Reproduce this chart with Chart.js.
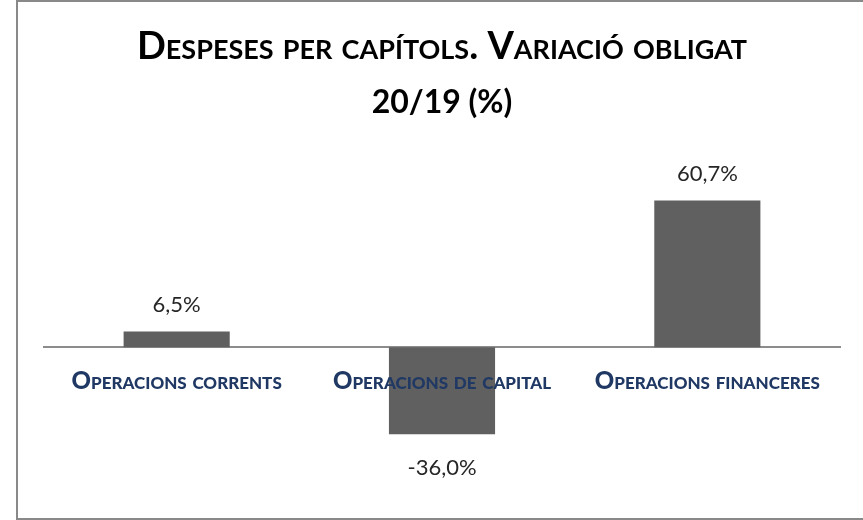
<!DOCTYPE html>
<html>
<head>
<meta charset="utf-8">
<script src="https://cdn.jsdelivr.net/npm/chart.js@4/dist/chart.umd.min.js"></script>
<style>
  html, body { margin: 0; padding: 0; background: #fff; overflow: hidden; }
  #wrap { width: 863px; height: 520px; }
</style>
</head>
<body>
<div id="wrap"><canvas id="chart"></canvas></div>
<script>
const titleLines = ['Despeses per capítols. Variació obligat', '20/19 (%)']
const titleSizes = [38, 32]
const categories = ['Operacions corrents', 'Operacions de capital', 'Operacions financeres']
const variation = [6.5, -36.0, 60.7]

const fmt = v => v.toFixed(1).replace('.', ',') + '%'

// Frame round the chart (right edge falls outside the picture) + small caps for axis labels
const framePlugin = {
  id: 'frame',
  beforeDraw(chart) {
    const ctx = chart.ctx
    ctx.save()
    ctx.fillStyle = '#fff'
    ctx.fillRect(0, 0, chart.width, chart.height)
    ctx.strokeStyle = '#898989'
    ctx.lineWidth = 2
    ctx.strokeRect(17, 1, 900, 518)
    ctx.restore()
    ctx.fontVariantCaps = 'small-caps'
  },
}

// Two-line small-caps title, centred on the plot area
const smallCapsTitle = {
  id: 'smallCapsTitle',
  afterDraw(chart) {
    const ctx = chart.ctx
    const { left, right } = chart.chartArea
    ctx.save()
    ctx.fillStyle = '#000'
    ctx.textAlign = 'center'
    ctx.textBaseline = 'middle'
    titleLines.forEach((line, i) => {
      ctx.font = `bold ${titleSizes[i]}px Lato`
      ctx.fontVariantCaps = 'small-caps'   // must come after font, setting font resets it
      ctx.fillText(line, (left + right) / 2, 47 + i * 56)
    })
    ctx.restore()
  },
}

// Value labels above / below each bar
const valueLabels = {
  id: 'valueLabels',
  afterDraw(chart) {
    const ctx = chart.ctx
    const meta = chart.getDatasetMeta(0)
    ctx.save()
    ctx.font = '22px Lato'
    ctx.fontVariantCaps = 'normal'
    ctx.fillStyle = '#262626'
    ctx.textAlign = 'center'
    ctx.textBaseline = 'middle'
    meta.data.forEach((bar, i) => {
      const v = variation[i]
      const y = v >= 0 ? bar.y - 27 : bar.y + 34
      ctx.fillText(fmt(v), bar.x, y)
    })
    ctx.restore()
  },
}

new Chart(document.getElementById('chart'), {
  type: 'bar',
  data: {
    labels: categories,
    datasets: [{
      data: variation,
      backgroundColor: '#606060',
      barPercentage: 0.4,
      categoryPercentage: 1,
    }],
  },
  options: {
    responsive: true,
    maintainAspectRatio: false,
    animation: false,
    layout: { padding: { top: 178, left: 44, right: 23, bottom: 52 } },
    plugins: {
      legend: { display: false },
      tooltip: { enabled: false },
    },
    scales: {
      x: {
        position: { y: 0 },
        grid: { display: false },
        border: { display: true, color: '#8c8c8c', width: 2 },
        ticks: {
          z: 1,
          color: '#1f3864',
          padding: 12,
          font: { family: 'Lato', size: 24, weight: 900 },
        },
      },
      y: {
        display: false,
        min: -50,
        max: 70,
      },
    },
  },
  plugins: [framePlugin, smallCapsTitle, valueLabels],
})
</script>
</body>
</html>
